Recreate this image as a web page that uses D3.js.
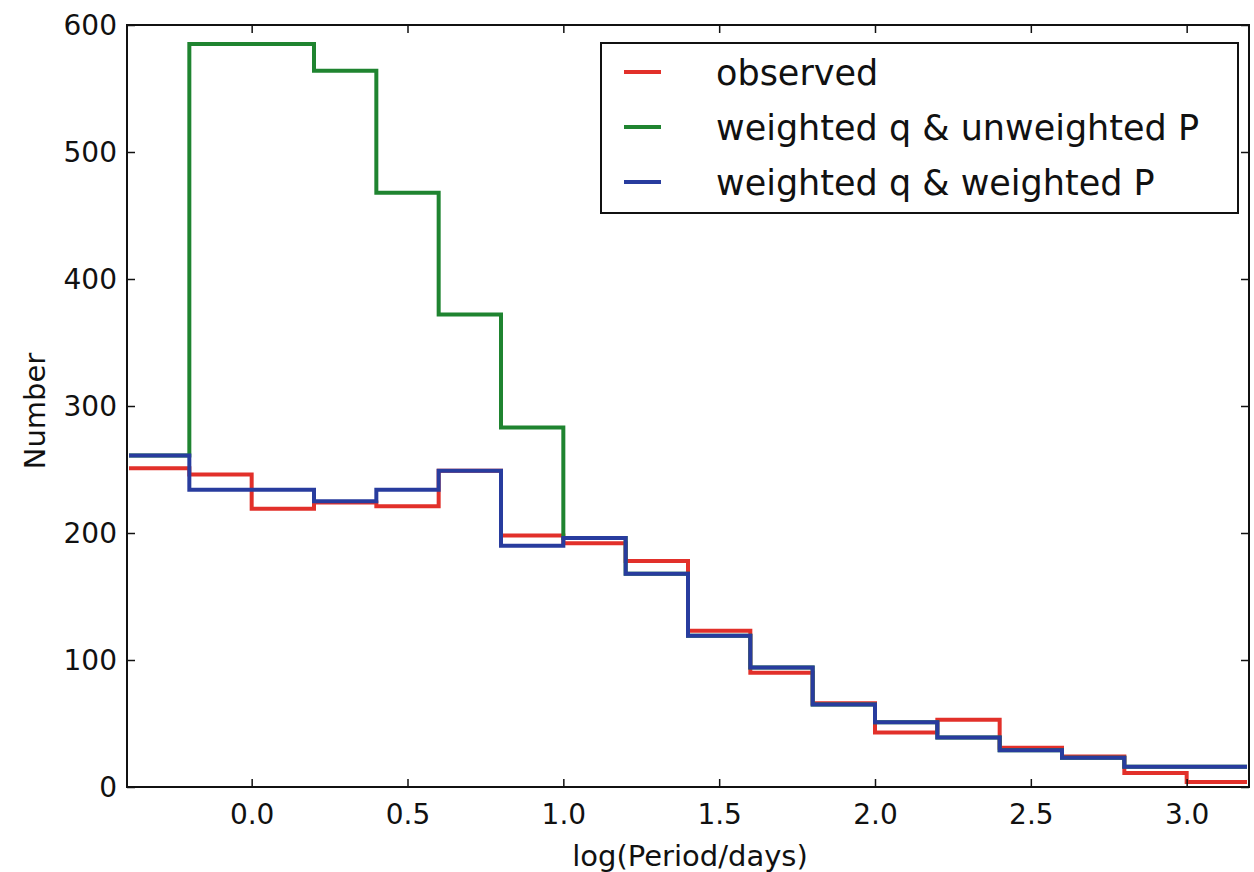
<!DOCTYPE html>
<html>
<head>
<meta charset="utf-8">
<script src="https://cdn.jsdelivr.net/npm/d3@7"></script>
<style>
  html, body { margin: 0; padding: 0; background: #fff; }
  svg { display: block; }
  text { font-family: "DejaVu Sans", sans-serif; fill: #111; }
</style>
</head>
<body>
<svg id="chart" width="1254" height="872"></svg>
<script>
// Bin edges of log(Period/days)
const binEdges = [-0.4, -0.2, 0.0, 0.2, 0.4, 0.6, 0.8, 1.0, 1.2, 1.4, 1.6, 1.8, 2.0, 2.2, 2.4, 2.6, 2.8, 3.0, 3.2];
// Series counts per bin
const observed = [251, 246, 219, 224, 221, 249, 198, 192, 178, 123, 90, 66, 43, 53, 31, 24, 11, 4];
const weightedQUnweightedP = [261, 585, 585, 564, 468, 372, 283, 196, 168, 119, 94, 65, 51, 39, 29, 23, 16, 16];
const weightedQWeightedP = [261, 234, 234, 225, 234, 249, 190, 196, 168, 119, 94, 65, 51, 39, 29, 23, 16, 16];
const seriesNames = ["observed", "weighted q & unweighted P", "weighted q & weighted P"];
const seriesColors = ["#e2302a", "#1f8430", "#283c9e"];
const xTicks = [0.0, 0.5, 1.0, 1.5, 2.0, 2.5, 3.0];
const yTicks = [0, 100, 200, 300, 400, 500, 600];

const svg = d3.select("#chart");
const L = 127, R = 1249, T = 25, B = 787;
const x = d3.scaleLinear().domain([-0.4, 3.2]).range([L, R]);
const y = d3.scaleLinear().domain([0, 600]).range([B, T]);

const defs = svg.append("defs");
defs.append("clipPath").attr("id", "clip").append("rect")
  .attr("x", L + 2).attr("y", T).attr("width", R - L - 4).attr("height", B - T);

function stepPoints(vals) {
  const pts = [[binEdges[0], 0]];
  vals.forEach((v, i) => {
    pts.push([binEdges[i], v]);
    pts.push([binEdges[i + 1], v]);
  });
  pts.push([binEdges[binEdges.length - 1], 0]);
  return pts;
}
const line = d3.line().x(d => x(d[0])).y(d => y(d[1]));

const allSeries = [observed, weightedQUnweightedP, weightedQWeightedP];
const g = svg.append("g").attr("clip-path", "url(#clip)");
allSeries.forEach((vals, i) => {
  g.append("path")
    .attr("d", line(stepPoints(vals)))
    .attr("fill", "none")
    .attr("stroke", seriesColors[i])
    .attr("stroke-width", 4)
    .attr("stroke-linejoin", "miter");
});

// Axes (ticks inward on all sides)
const tickLen = 8;
const axB = svg.append("g").attr("transform", `translate(0,${B})`)
  .call(d3.axisBottom(x).tickValues(xTicks).tickFormat(d3.format(".1f")).tickSizeInner(-tickLen).tickSizeOuter(0).tickPadding(17));
const axT = svg.append("g").attr("transform", `translate(0,${T})`)
  .call(d3.axisTop(x).tickValues(xTicks).tickFormat("").tickSizeInner(-tickLen).tickSizeOuter(0));
const axL = svg.append("g").attr("transform", `translate(${L},0)`)
  .call(d3.axisLeft(y).tickValues(yTicks).tickFormat(d3.format("d")).tickSizeInner(-tickLen).tickSizeOuter(0).tickPadding(10));
const axR = svg.append("g").attr("transform", `translate(${R},0)`)
  .call(d3.axisRight(y).tickValues(yTicks).tickFormat("").tickSizeInner(-tickLen).tickSizeOuter(0));
[axB, axT, axL, axR].forEach(a => {
  a.select(".domain").remove();
  a.selectAll(".tick line").attr("stroke", "#111").attr("stroke-width", 1.5);
  a.selectAll("text").attr("font-family", "DejaVu Sans, sans-serif").attr("fill", "#111");
});
axB.selectAll("text").attr("font-size", 28);
axL.selectAll("text").attr("font-size", 28).attr("dy", "0.35em");

// Spines
svg.append("rect").attr("x", L).attr("y", T).attr("width", R - L).attr("height", B - T)
  .attr("fill", "none").attr("stroke", "#111").attr("stroke-width", 2);

// Axis labels
svg.append("text").attr("x", 690).attr("y", 866)
  .attr("text-anchor", "middle").attr("font-size", 29).text("log(Period/days)");
svg.append("text").attr("transform", `translate(45,${411}) rotate(-90)`)
  .attr("text-anchor", "middle").attr("font-size", 29).text("Number");

// Legend
const lg = svg.append("g");
lg.append("rect").attr("x", 601).attr("y", 43).attr("width", 637).attr("height", 170)
  .attr("fill", "#fff").attr("stroke", "#111").attr("stroke-width", 2);
const rowY = [72, 127, 182];
seriesNames.forEach((name, i) => {
  lg.append("line").attr("x1", 624).attr("x2", 661).attr("y1", rowY[i]).attr("y2", rowY[i])
    .attr("stroke", seriesColors[i]).attr("stroke-width", 4);
  lg.append("text").attr("x", 716).attr("y", rowY[i]).attr("dy", "0.36em")
    .attr("font-size", 35).text(name);
});
</script>
</body>
</html>
